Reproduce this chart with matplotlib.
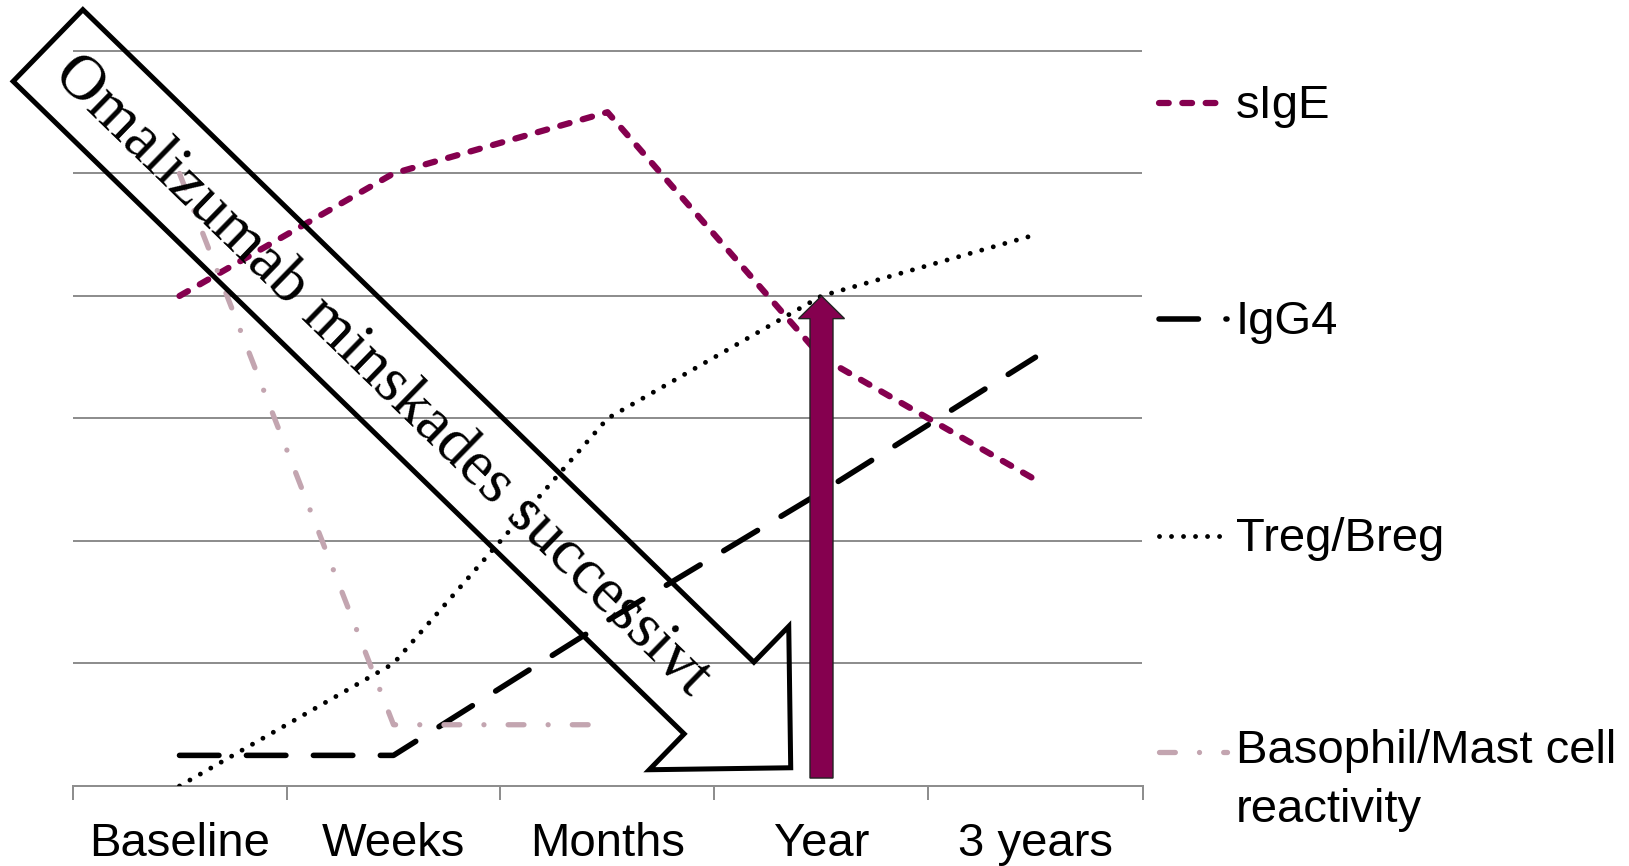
import numpy as np
import matplotlib.pyplot as plt
from matplotlib.lines import Line2D
from matplotlib.patches import FancyArrow
from matplotlib.transforms import Affine2D

plt.rcParams['font.family'] = 'Liberation Sans'
plt.rcParams['lines.scale_dashes'] = False

categories = ['Baseline', 'Weeks', 'Months', 'Year', '3 years']
sige = [4.0, 5.0, 5.5, 3.5, 2.5]
igg4 = [0.25, 0.25, 1.35, 2.4, 3.5]
treg = [0.0, 1.0, 3.0, 4.0, 4.5]
basophil = [5.0, 0.5, 0.5, np.nan, np.nan]
names = ['sIgE', 'IgG4', 'Treg/Breg', 'Basophil/Mast cell\nreactivity']

# purple arrow at "Year", from the axis up to the Treg level
arrow_cat = 3
arrow_from, arrow_to = 0.065, 4.0
arrow_text = 'Omalizumab minskades successivt'

PURPLE = '#85004F'
GRID = '#8E8E8E'

# dash lengths in points (dpi 100)
styles = [
    dict(color=PURPLE, lw=4.5, dashes=(7.0, 9.8)),
    dict(color='black', lw=4.0, dashes=(28.4, 19.8)),
    dict(color='black', lw=3.5, dashes=(0.01, 8.64)),
    dict(color='#C3A5B0', lw=3.8, dashes=(11.4, 17.4, 0.01, 17.4)),
]

W, H = 1629, 866
fig = plt.figure(figsize=(W / 100, H / 100), dpi=100)
ax = fig.add_axes([72.5 / W, (H - 786) / H, 1070 / W, (786 - 48.5) / H])

# image-style pixel coordinates (origin top left)
px = Affine2D().scale(1 / W, -1 / H).translate(0, 1) + fig.transFigure

x = np.arange(len(categories))
for vals, st in zip([sige, igg4, treg, basophil], styles):
    ax.plot(x, vals, dash_capstyle='round', solid_capstyle='round', zorder=3, **st)

ax.set_xlim(-0.5, len(categories) - 0.5)
ax.set_ylim(0, 6.02)
ax.set_yticks(range(7))
ax.yaxis.grid(True, color=GRID, lw=1.44)
ax.set_axisbelow(True)
ax.tick_params(axis='y', length=0, labelleft=False)
for s in ['left', 'right', 'top']:
    ax.spines[s].set_visible(False)
ax.spines['bottom'].set_color(GRID)
ax.spines['bottom'].set_linewidth(1.44)

ax.set_xticks(np.arange(-0.5, len(categories), 1))
ax.set_xticklabels([])
ax.tick_params(axis='x', which='major', length=10, width=1.44, color=GRID)
ax.set_xticks(x, labels=categories, minor=True)
ax.tick_params(axis='x', which='minor', length=0, pad=26, labelsize=34)

# vertical purple arrow
ax.add_patch(FancyArrow(arrow_cat, arrow_from, 0, arrow_to - arrow_from,
                        width=0.1075, head_width=0.215, head_length=0.185,
                        length_includes_head=True, facecolor=PURPLE,
                        edgecolor='#222222', lw=1.0, zorder=5))

# large hollow arrow with text
ang = np.deg2rad(44.2)
start = np.array([48.0, 45.5])
length = 1036
dx, dy = length * np.cos(ang), length * np.sin(ang)
big = FancyArrow(start[0], start[1], dx, dy, width=100, head_width=200,
                 head_length=100, length_includes_head=True, fill=False,
                 edgecolor='black', lw=3.6, joinstyle='miter',
                 transform=px, zorder=6)
fig.add_artist(big)
fig.text(381, 376, arrow_text, transform=px, rotation=-44.2,
         rotation_mode='anchor', ha='center', va='center',
         fontsize=46, family='Liberation Serif', zorder=7)

# legend on the right; text baseline sits on the last line, so push
# multi-line labels down by the extra lines
legend_y = [103, 319, 536, 752]
line_step = 55
for name, st, yy in zip(names, styles, legend_y):
    fig.add_artist(Line2D([1159, 1227], [yy, yy], transform=px,
                          dash_capstyle='round', **st))
    extra = name.count('\n') * line_step
    fig.text(1236, yy + 15 + extra, name, transform=px, va='baseline',
             ha='left', fontsize=34, linespacing=1.45)

fig.savefig('out.png', dpi=100)
